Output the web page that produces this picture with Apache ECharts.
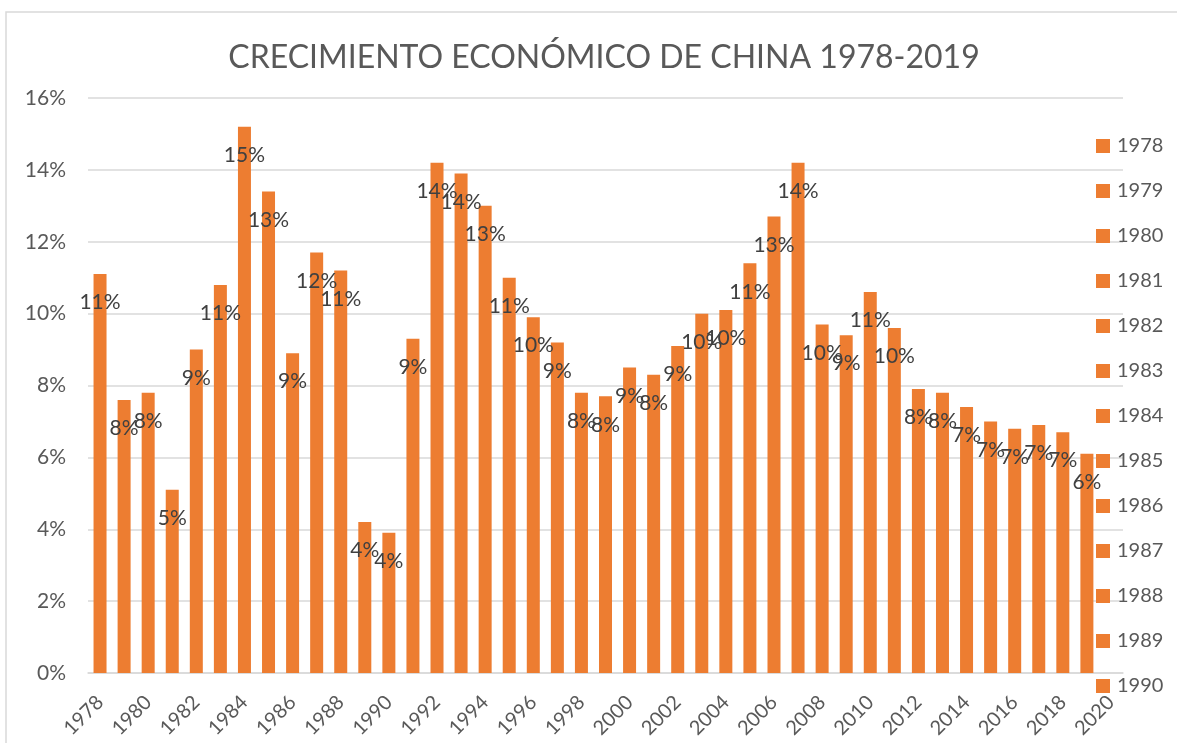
<!DOCTYPE html>
<html>
<head>
<meta charset="utf-8">
<title>Crecimiento económico de China</title>
<script src="https://cdn.jsdelivr.net/npm/echarts@6/dist/echarts.min.js"></script>
<style>
  html, body { margin: 0; padding: 0; background: #fff; }
  #chart { width: 1177px; height: 743px; }
</style>
</head>
<body>
<div id="chart"></div>
<script>
// categorías (2020 aparece en el eje pero sin dato)
const years = ['1978','1979','1980','1981','1982','1983','1984','1985','1986','1987',
  '1988','1989','1990','1991','1992','1993','1994','1995','1996','1997',
  '1998','1999','2000','2001','2002','2003','2004','2005','2006','2007',
  '2008','2009','2010','2011','2012','2013','2014','2015','2016','2017',
  '2018','2019','2020'];

// crecimiento del PIB (%)
const growth = [11.1, 7.6, 7.8, 5.1, 9.0, 10.8, 15.2, 13.4, 8.9, 11.7,
  11.2, 4.2, 3.9, 9.3, 14.2, 13.9, 13.0, 11.0, 9.9, 9.2,
  7.8, 7.7, 8.5, 8.3, 9.1, 10.0, 10.1, 11.4, 12.7, 14.2,
  9.7, 9.4, 10.6, 9.6, 7.9, 7.8, 7.4, 7.0, 6.8, 6.9,
  6.7, 6.1, null];

// la leyenda de Excel sólo alcanza a mostrar los primeros años
const legendYears = years.slice(0, 13);

const yTicks = { min: 0, max: 16, interval: 2 };

const orange = '#ED7D31';
const font = 'Lato, "Open Sans", sans-serif';

const chart = echarts.init(document.getElementById('chart'));

const series = [{
  name: 'Crecimiento',
  type: 'bar',
  stack: 'g',
  data: growth,
  barCategoryGap: '46%',
  itemStyle: { color: orange },
  label: {
    show: true,
    position: 'insideTop',
    distance: 18,
    color: '#404040',
    fontFamily: font,
    fontSize: 21,
    formatter: p => Math.round(p.value) + '%'
  }
}];
// series vacías sólo para la leyenda
legendYears.forEach(y => {
  series.push({ name: y, type: 'bar', stack: 'g', data: [], itemStyle: { color: orange } });
});

const option = {
  animation: false,
  graphic: [{
    type: 'rect',
    shape: { x: 6, y: 12, width: 1300, height: 900 },
    style: { fill: 'none', stroke: '#d9d9d9', lineWidth: 1.5 },
    z: -10
  }],
  title: {
    text: 'CRECIMIENTO ECONÓMICO DE CHINA 1978-2019',
    left: 599,
    top: 37,
    textAlign: 'center',
    textStyle: { color: '#595959', fontFamily: font, fontSize: 32, fontWeight: 'normal' }
  },
  legend: {
    data: legendYears,
    orient: 'vertical',
    left: 1096,
    top: 136,
    padding: 0,
    itemWidth: 14,
    itemHeight: 14,
    itemGap: 25,
    icon: 'rect',
    textStyle: { color: '#595959', fontFamily: font, fontSize: 20, lineHeight: 20, padding: [0, 0, 0, 2] }
  },
  grid: { left: 88, right: 54, top: 98, bottom: 70 },
  xAxis: {
    type: 'category',
    data: years,
    axisTick: { show: false },
    axisLine: { lineStyle: { color: '#d9d9d9', width: 1.5 } },
    axisLabel: {
      interval: 1,
      rotate: 45,
      margin: 26,
      color: '#595959',
      fontFamily: font,
      fontSize: 20
    }
  },
  yAxis: {
    type: 'value',
    min: yTicks.min,
    max: yTicks.max,
    interval: yTicks.interval,
    axisLine: { show: false },
    axisTick: { show: false },
    splitLine: { lineStyle: { color: '#d9d9d9', width: 1.5 } },
    axisLabel: {
      margin: 22,
      color: '#595959',
      fontFamily: font,
      fontSize: 21,
      formatter: v => v + '%'
    }
  },
  series: series
};

chart.setOption(option);
window.addEventListener('resize', () => chart.resize());
</script>
</body>
</html>
